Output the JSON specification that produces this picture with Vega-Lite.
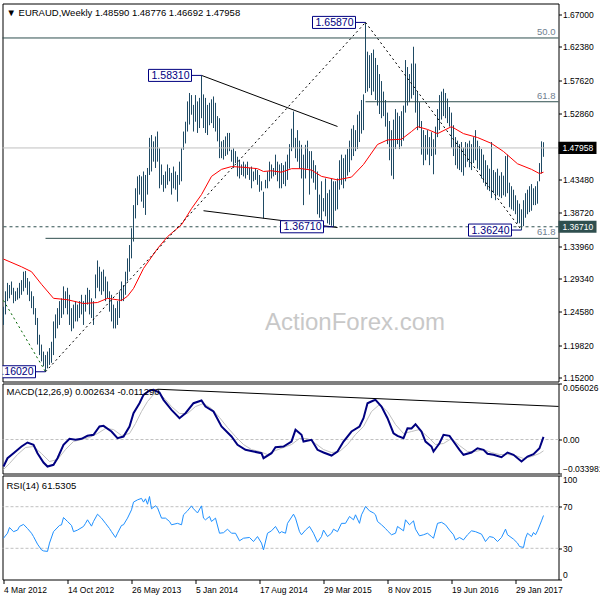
{
"$schema": "https://vega.github.io/schema/vega-lite/v6.json",
"background": "white",
"padding": {"left": -1.5, "top": 2.5, "right": 0, "bottom": 0},
"bounds": "flush",
"spacing": 2,
"config": {
 "view": {"stroke": "black", "strokeWidth": 1, "fill": "white"},
 "axis": {"labelFont": "Liberation Sans", "labelFontSize": 8.5, "labelColor": "black", "tickColor": "black", "tickWidth": 1, "domain": false, "grid": false, "labelOverlap": false},
 "text": {"font": "Liberation Sans"}
},
"datasets": {
 "bars": [
{"i":0,"h":1.253,"l":1.227},{"i":1,"h":1.275,"l":1.242},{"i":2,"h":1.287,"l":1.261},{"i":3,"h":1.284,"l":1.265},{"i":4,"h":1.289,"l":1.270},{"i":5,"h":1.280,"l":1.258},{"i":6,"h":1.275,"l":1.261},{"i":7,"h":1.280,"l":1.263},{"i":8,"h":1.287,"l":1.265},{"i":9,"h":1.291,"l":1.270},
{"i":10,"h":1.303,"l":1.275},{"i":11,"h":1.304,"l":1.280},{"i":12,"h":1.294,"l":1.270},{"i":13,"h":1.289,"l":1.261},{"i":14,"h":1.275,"l":1.251},{"i":15,"h":1.268,"l":1.242},{"i":16,"h":1.251,"l":1.227},{"i":17,"h":1.237,"l":1.199},{"i":18,"h":1.213,"l":1.184},{"i":19,"h":1.199,"l":1.175},
{"i":20,"h":1.189,"l":1.168},{"i":21,"h":1.184,"l":1.1602},{"i":22,"h":1.189,"l":1.165},{"i":23,"h":1.194,"l":1.170},{"i":24,"h":1.203,"l":1.173},{"i":25,"h":1.232,"l":1.184},{"i":26,"h":1.242,"l":1.208},{"i":27,"h":1.251,"l":1.222},{"i":28,"h":1.261,"l":1.227},{"i":29,"h":1.265,"l":1.237},
{"i":30,"h":1.282,"l":1.242},{"i":31,"h":1.275,"l":1.251},{"i":32,"h":1.280,"l":1.242},{"i":33,"h":1.270,"l":1.227},{"i":34,"h":1.251,"l":1.218},{"i":35,"h":1.256,"l":1.222},{"i":36,"h":1.261,"l":1.232},{"i":37,"h":1.256,"l":1.232},{"i":38,"h":1.261,"l":1.237},{"i":39,"h":1.270,"l":1.242},
{"i":40,"h":1.261,"l":1.227},{"i":41,"h":1.270,"l":1.246},{"i":42,"h":1.280,"l":1.256},{"i":43,"h":1.277,"l":1.242},{"i":44,"h":1.265,"l":1.237},{"i":45,"h":1.261,"l":1.227},{"i":46,"h":1.299,"l":1.265},{"i":47,"h":1.319,"l":1.280},{"i":48,"h":1.310,"l":1.275},{"i":49,"h":1.303,"l":1.270},
{"i":50,"h":1.306,"l":1.275},{"i":51,"h":1.296,"l":1.261},{"i":52,"h":1.289,"l":1.265},{"i":53,"h":1.275,"l":1.246},{"i":54,"h":1.270,"l":1.232},{"i":55,"h":1.256,"l":1.222},{"i":56,"h":1.251,"l":1.222},{"i":57,"h":1.261,"l":1.227},{"i":58,"h":1.275,"l":1.237},{"i":59,"h":1.289,"l":1.261},
{"i":60,"h":1.284,"l":1.261},{"i":61,"h":1.303,"l":1.270},{"i":62,"h":1.322,"l":1.289},{"i":63,"h":1.341,"l":1.303},{"i":64,"h":1.365,"l":1.322},{"i":65,"h":1.398,"l":1.346},{"i":66,"h":1.422,"l":1.379},{"i":67,"h":1.439,"l":1.398},{"i":68,"h":1.441,"l":1.413},{"i":69,"h":1.439,"l":1.403},
{"i":70,"h":1.446,"l":1.394},{"i":71,"h":1.441,"l":1.384},{"i":72,"h":1.451,"l":1.413},{"i":73,"h":1.494,"l":1.441},{"i":74,"h":1.498,"l":1.446},{"i":75,"h":1.489,"l":1.460},{"i":76,"h":1.496,"l":1.451},{"i":77,"h":1.503,"l":1.460},{"i":78,"h":1.479,"l":1.422},{"i":79,"h":1.456,"l":1.427},
{"i":80,"h":1.441,"l":1.417},{"i":81,"h":1.446,"l":1.422},{"i":82,"h":1.456,"l":1.427},{"i":83,"h":1.451,"l":1.432},{"i":84,"h":1.444,"l":1.413},{"i":85,"h":1.453,"l":1.422},{"i":86,"h":1.446,"l":1.420},{"i":87,"h":1.441,"l":1.403},{"i":88,"h":1.460,"l":1.427},{"i":89,"h":1.479,"l":1.432},
{"i":90,"h":1.503,"l":1.477},{"i":91,"h":1.517,"l":1.486},{"i":92,"h":1.546,"l":1.503},{"i":93,"h":1.558,"l":1.513},{"i":94,"h":1.555,"l":1.527},{"i":95,"h":1.541,"l":1.503},{"i":96,"h":1.555,"l":1.517},{"i":97,"h":1.546,"l":1.501},{"i":98,"h":1.551,"l":1.508},{"i":99,"h":1.5831,"l":1.522},
{"i":100,"h":1.556,"l":1.508},{"i":101,"h":1.551,"l":1.501},{"i":102,"h":1.541,"l":1.498},{"i":103,"h":1.544,"l":1.512},{"i":104,"h":1.549,"l":1.515},{"i":105,"h":1.553,"l":1.508},{"i":106,"h":1.544,"l":1.503},{"i":107,"h":1.525,"l":1.489},{"i":108,"h":1.522,"l":1.465},{"i":109,"h":1.489,"l":1.465},
{"i":110,"h":1.491,"l":1.463},{"i":111,"h":1.496,"l":1.468},{"i":112,"h":1.501,"l":1.470},{"i":113,"h":1.501,"l":1.475},{"i":114,"h":1.477,"l":1.460},{"i":115,"h":1.479,"l":1.451},{"i":116,"h":1.475,"l":1.458},{"i":117,"h":1.467,"l":1.439},{"i":118,"h":1.463,"l":1.436},{"i":119,"h":1.456,"l":1.441},
{"i":120,"h":1.460,"l":1.439},{"i":121,"h":1.456,"l":1.436},{"i":122,"h":1.460,"l":1.441},{"i":123,"h":1.451,"l":1.434},{"i":124,"h":1.453,"l":1.422},{"i":125,"h":1.446,"l":1.432},{"i":126,"h":1.451,"l":1.434},{"i":127,"h":1.448,"l":1.427},{"i":128,"h":1.441,"l":1.417},{"i":129,"h":1.432,"l":1.419},
{"i":130,"h":1.417,"l":1.379},{"i":131,"h":1.434,"l":1.422},{"i":132,"h":1.446,"l":1.422},{"i":133,"h":1.460,"l":1.432},{"i":134,"h":1.456,"l":1.436},{"i":135,"h":1.451,"l":1.439},{"i":136,"h":1.470,"l":1.441},{"i":137,"h":1.460,"l":1.432},{"i":138,"h":1.456,"l":1.422},{"i":139,"h":1.458,"l":1.422},
{"i":140,"h":1.455,"l":1.428},{"i":141,"h":1.460,"l":1.425},{"i":142,"h":1.470,"l":1.434},{"i":143,"h":1.485,"l":1.450},{"i":144,"h":1.507,"l":1.475},{"i":145,"h":1.5316,"l":1.480},{"i":146,"h":1.494,"l":1.465},{"i":147,"h":1.505,"l":1.460},{"i":148,"h":1.490,"l":1.450},{"i":149,"h":1.484,"l":1.436},
{"i":150,"h":1.470,"l":1.398},{"i":151,"h":1.484,"l":1.436},{"i":152,"h":1.490,"l":1.450},{"i":153,"h":1.475,"l":1.413},{"i":154,"h":1.475,"l":1.436},{"i":155,"h":1.462,"l":1.430},{"i":156,"h":1.455,"l":1.420},{"i":157,"h":1.446,"l":1.385},{"i":158,"h":1.413,"l":1.380},{"i":159,"h":1.432,"l":1.370},
{"i":160,"h":1.408,"l":1.389},{"i":161,"h":1.436,"l":1.382},{"i":162,"h":1.415,"l":1.372},{"i":163,"h":1.420,"l":1.370},{"i":164,"h":1.436,"l":1.3685},{"i":165,"h":1.432,"l":1.3671},{"i":166,"h":1.432,"l":1.390},{"i":167,"h":1.436,"l":1.392},{"i":168,"h":1.462,"l":1.420},{"i":169,"h":1.470,"l":1.427},
{"i":170,"h":1.465,"l":1.422},{"i":171,"h":1.470,"l":1.432},{"i":172,"h":1.478,"l":1.440},{"i":173,"h":1.490,"l":1.445},{"i":174,"h":1.507,"l":1.462},{"i":175,"h":1.512,"l":1.468},{"i":176,"h":1.505,"l":1.475},{"i":177,"h":1.527,"l":1.478},{"i":178,"h":1.532,"l":1.488},{"i":179,"h":1.548,"l":1.500},
{"i":180,"h":1.556,"l":1.505},{"i":181,"h":1.6587,"l":1.558},{"i":182,"h":1.617,"l":1.560},{"i":183,"h":1.612,"l":1.565},{"i":184,"h":1.615,"l":1.555},{"i":185,"h":1.620,"l":1.560},{"i":186,"h":1.608,"l":1.548},{"i":187,"h":1.598,"l":1.540},{"i":188,"h":1.585,"l":1.528},{"i":189,"h":1.575,"l":1.522},
{"i":190,"h":1.560,"l":1.525},{"i":191,"h":1.548,"l":1.510},{"i":192,"h":1.530,"l":1.485},{"i":193,"h":1.518,"l":1.462},{"i":194,"h":1.505,"l":1.440},{"i":195,"h":1.520,"l":1.435},{"i":196,"h":1.535,"l":1.478},{"i":197,"h":1.530,"l":1.485},{"i":198,"h":1.525,"l":1.478},{"i":199,"h":1.532,"l":1.482},
{"i":200,"h":1.540,"l":1.490},{"i":201,"h":1.605,"l":1.530},{"i":202,"h":1.595,"l":1.540},{"i":203,"h":1.585,"l":1.545},{"i":204,"h":1.600,"l":1.550},{"i":205,"h":1.624,"l":1.555},{"i":206,"h":1.600,"l":1.530},{"i":207,"h":1.560,"l":1.505},{"i":208,"h":1.545,"l":1.508},{"i":209,"h":1.518,"l":1.470},
{"i":210,"h":1.505,"l":1.455},{"i":211,"h":1.498,"l":1.462},{"i":212,"h":1.505,"l":1.470},{"i":213,"h":1.495,"l":1.455},{"i":214,"h":1.502,"l":1.468},{"i":215,"h":1.492,"l":1.442},{"i":216,"h":1.510,"l":1.470},{"i":217,"h":1.535,"l":1.495},{"i":218,"h":1.555,"l":1.505},{"i":219,"h":1.560,"l":1.520},
{"i":220,"h":1.564,"l":1.525},{"i":221,"h":1.558,"l":1.522},{"i":222,"h":1.550,"l":1.515},{"i":223,"h":1.538,"l":1.510},{"i":224,"h":1.530,"l":1.480},{"i":225,"h":1.512,"l":1.468},{"i":226,"h":1.495,"l":1.455},{"i":227,"h":1.490,"l":1.450},{"i":228,"h":1.485,"l":1.448},{"i":229,"h":1.488,"l":1.445},
{"i":230,"h":1.480,"l":1.440},{"i":231,"h":1.488,"l":1.452},{"i":232,"h":1.486,"l":1.460},{"i":233,"h":1.490,"l":1.452},{"i":234,"h":1.485,"l":1.448},{"i":235,"h":1.495,"l":1.458},{"i":236,"h":1.505,"l":1.462},{"i":237,"h":1.490,"l":1.450},{"i":238,"h":1.482,"l":1.448},{"i":239,"h":1.478,"l":1.436},
{"i":240,"h":1.470,"l":1.430},{"i":241,"h":1.462,"l":1.425},{"i":242,"h":1.455,"l":1.420},{"i":243,"h":1.450,"l":1.418},{"i":244,"h":1.488,"l":1.408},{"i":245,"h":1.448,"l":1.415},{"i":246,"h":1.445,"l":1.405},{"i":247,"h":1.450,"l":1.412},{"i":248,"h":1.440,"l":1.410},{"i":249,"h":1.445,"l":1.408},
{"i":250,"h":1.440,"l":1.412},{"i":251,"h":1.468,"l":1.410},{"i":252,"h":1.470,"l":1.415},{"i":253,"h":1.430,"l":1.395},{"i":254,"h":1.425,"l":1.392},{"i":255,"h":1.420,"l":1.390},{"i":256,"h":1.412,"l":1.385},{"i":257,"h":1.405,"l":1.372},{"i":258,"h":1.400,"l":1.372},{"i":259,"h":1.392,"l":1.3624},
{"i":260,"h":1.405,"l":1.368},{"i":261,"h":1.415,"l":1.380},{"i":262,"h":1.420,"l":1.385},{"i":263,"h":1.425,"l":1.388},{"i":264,"h":1.428,"l":1.390},{"i":265,"h":1.422,"l":1.398},{"i":266,"h":1.425,"l":1.398},{"i":267,"h":1.432,"l":1.400},{"i":268,"h":1.458,"l":1.432},{"i":269,"h":1.489,"l":1.443},
{"i":270,"h":1.48776,"l":1.46692}
 ],
 "ma": [
{"i":0,"v":1.321},{"i":9,"v":1.310},{"i":14,"v":1.303},{"i":19,"v":1.285},{"i":25,"v":1.265},{"i":32,"v":1.263},{"i":40,"v":1.2576},{"i":47,"v":1.259},{"i":52,"v":1.265},{"i":59,"v":1.262},{"i":62,"v":1.268},{"i":65,"v":1.279},{"i":70,"v":1.3076},{"i":77,"v":1.336},{"i":82,"v":1.353},{"i":89,"v":1.370},{"i":94,"v":1.393},{"i":99,"v":1.413},{"i":104,"v":1.439},{"i":109,"v":1.449},{"i":114,"v":1.453},{"i":120,"v":1.452},{"i":127,"v":1.450},{"i":130,"v":1.446},{"i":134,"v":1.447},{"i":139,"v":1.445},{"i":144,"v":1.450},{"i":149,"v":1.450},{"i":154,"v":1.448},{"i":159,"v":1.439},{"i":167,"v":1.434},{"i":174,"v":1.438},{"i":180,"v":1.456},{"i":187,"v":1.4845},{"i":192,"v":1.491},{"i":199,"v":1.492},{"i":204,"v":1.503},{"i":207,"v":1.510},{"i":212,"v":1.506},{"i":217,"v":1.500},{"i":224,"v":1.510},{"i":230,"v":1.500},{"i":237,"v":1.4945},{"i":244,"v":1.486},{"i":250,"v":1.4745},{"i":257,"v":1.457},{"i":264,"v":1.449},{"i":268,"v":1.443},{"i":270,"v":1.445}
 ],
 "macd": [
{"i":0,"v":-0.027},{"i":2,"v":-0.0187},{"i":5,"v":-0.0137},{"i":9,"v":-0.007},{"i":12,"v":-0.003},{"i":15,"v":-0.0053},{"i":17,"v":-0.0137},{"i":20,"v":-0.023},{"i":22,"v":-0.027},{"i":25,"v":-0.0253},{"i":27,"v":-0.0187},{"i":30,"v":-0.0053},{"i":33,"v":0.0007},{"i":36,"v":-0.0003},{"i":39,"v":0.0007},{"i":42,"v":0.0037},{"i":45,"v":0.0047},{"i":48,"v":0.013},{"i":50,"v":0.0137},{"i":54,"v":0.008},{"i":57,"v":0.0013},{"i":60,"v":0.003},{"i":63,"v":0.013},{"i":65,"v":0.0263},{"i":68,"v":0.0363},{"i":70,"v":0.0447},{"i":73,"v":0.049},{"i":75,"v":0.0497},{"i":78,"v":0.047},{"i":80,"v":0.0397},{"i":84,"v":0.0297},{"i":88,"v":0.0213},{"i":91,"v":0.0263},{"i":95,"v":0.0363},{"i":99,"v":0.039},{"i":101,"v":0.033},{"i":105,"v":0.028},{"i":109,"v":0.013},{"i":114,"v":0.003},{"i":117,"v":-0.0053},{"i":121,"v":-0.0103},{"i":125,"v":-0.012},{"i":129,"v":-0.0137},{"i":130,"v":-0.0187},{"i":134,"v":-0.0137},{"i":136,"v":-0.0077},{"i":140,"v":-0.007},{"i":144,"v":-0.002},{"i":146,"v":0.0097},{"i":149,"v":0.0047},{"i":150,"v":-0.002},{"i":154,"v":-0.0003},{"i":157,"v":-0.0103},{"i":160,"v":-0.013},{"i":164,"v":-0.016},{"i":167,"v":-0.012},{"i":170,"v":-0.002},{"i":174,"v":0.008},{"i":178,"v":0.013},{"i":180,"v":0.0213},{"i":182,"v":0.0363},{"i":185,"v":0.039},{"i":186,"v":0.0397},{"i":189,"v":0.033},{"i":192,"v":0.0213},{"i":195,"v":0.0063},{"i":197,"v":0.0037},{"i":200,"v":0.0013},{"i":202,"v":0.0113},{"i":204,"v":0.011},{"i":206,"v":0.0153},{"i":209,"v":0.008},{"i":211,"v":-0.002},{"i":214,"v":-0.007},{"i":215,"v":-0.012},{"i":218,"v":-0.0037},{"i":220,"v":0.0047},{"i":223,"v":0.0037},{"i":225,"v":-0.002},{"i":228,"v":-0.0103},{"i":230,"v":-0.0153},{"i":234,"v":-0.013},{"i":237,"v":-0.0087},{"i":240,"v":-0.0103},{"i":242,"v":-0.0143},{"i":245,"v":-0.0153},{"i":249,"v":-0.0177},{"i":252,"v":-0.013},{"i":255,"v":-0.0153},{"i":259,"v":-0.022},{"i":262,"v":-0.017},{"i":265,"v":-0.0147},{"i":268,"v":-0.0087},{"i":270,"v":0.002634}
 ],
 "sig": [
{"i":0,"v":-0.030},{"i":3,"v":-0.024},{"i":7,"v":-0.015},{"i":11,"v":-0.008},{"i":15,"v":-0.007},{"i":19,"v":-0.014},{"i":23,"v":-0.022},{"i":27,"v":-0.020},{"i":31,"v":-0.010},{"i":35,"v":-0.002},{"i":39,"v":0.000},{"i":43,"v":0.002},{"i":47,"v":0.006},{"i":51,"v":0.011},{"i":55,"v":0.010},{"i":59,"v":0.004},{"i":63,"v":0.006},{"i":66,"v":0.016},{"i":69,"v":0.028},{"i":72,"v":0.038},{"i":75,"v":0.045},{"i":78,"v":0.046},{"i":81,"v":0.040},{"i":84,"v":0.033},{"i":88,"v":0.026},{"i":92,"v":0.026},{"i":96,"v":0.033},{"i":100,"v":0.036},{"i":104,"v":0.031},{"i":108,"v":0.022},{"i":112,"v":0.012},{"i":116,"v":0.003},{"i":120,"v":-0.005},{"i":124,"v":-0.010},{"i":128,"v":-0.012},{"i":132,"v":-0.015},{"i":136,"v":-0.011},{"i":140,"v":-0.008},{"i":144,"v":-0.005},{"i":148,"v":0.001},{"i":152,"v":0.001},{"i":156,"v":-0.004},{"i":160,"v":-0.010},{"i":164,"v":-0.013},{"i":168,"v":-0.012},{"i":172,"v":-0.005},{"i":176,"v":0.005},{"i":180,"v":0.013},{"i":184,"v":0.028},{"i":188,"v":0.035},{"i":192,"v":0.028},{"i":196,"v":0.015},{"i":200,"v":0.006},{"i":204,"v":0.008},{"i":208,"v":0.010},{"i":212,"v":0.003},{"i":216,"v":-0.005},{"i":220,"v":-0.004},{"i":224,"v":0.001},{"i":228,"v":-0.006},{"i":232,"v":-0.012},{"i":236,"v":-0.012},{"i":240,"v":-0.010},{"i":244,"v":-0.013},{"i":248,"v":-0.015},{"i":252,"v":-0.015},{"i":256,"v":-0.016},{"i":260,"v":-0.019},{"i":264,"v":-0.017},{"i":268,"v":-0.014},{"i":270,"v":-0.01129}
 ],
 "mtl": [{"i":77,"v":0.0503},{"i":277.5,"v":0.0331}],
 "rsi": [
{"i":0,"v":39.7},{"i":2,"v":44.5},{"i":3,"v":50},{"i":5,"v":46},{"i":7,"v":47.5},{"i":8,"v":51},{"i":10,"v":53},{"i":12,"v":49},{"i":14,"v":44.5},{"i":15,"v":41.3},{"i":17,"v":34},{"i":19,"v":28.5},{"i":20,"v":27.5},{"i":22,"v":27},{"i":23,"v":35},{"i":25,"v":46},{"i":28,"v":52},{"i":29,"v":52.5},{"i":30,"v":59.6},{"i":32,"v":55.8},{"i":34,"v":52},{"i":35,"v":46},{"i":37,"v":47.5},{"i":40,"v":51},{"i":41,"v":54},{"i":42,"v":57.4},{"i":44,"v":51.3},{"i":45,"v":55.8},{"i":47,"v":62.8},{"i":49,"v":59},{"i":51,"v":54},{"i":53,"v":49},{"i":54,"v":46},{"i":56,"v":40.4},{"i":57,"v":44.5},{"i":59,"v":52},{"i":60,"v":52.6},{"i":62,"v":59},{"i":64,"v":67},{"i":65,"v":74.4},{"i":67,"v":76.6},{"i":69,"v":78},{"i":70,"v":74.4},{"i":71,"v":77.6},{"i":72,"v":72.4},{"i":73,"v":79.8},{"i":74,"v":68},{"i":76,"v":70.8},{"i":77,"v":69},{"i":79,"v":59},{"i":81,"v":59},{"i":83,"v":55.8},{"i":84,"v":52.6},{"i":87,"v":54},{"i":89,"v":52.6},{"i":90,"v":62.2},{"i":92,"v":66},{"i":94,"v":70.8},{"i":95,"v":68},{"i":97,"v":64},{"i":99,"v":70.8},{"i":100,"v":59},{"i":101,"v":57.4},{"i":103,"v":60.6},{"i":104,"v":55.8},{"i":106,"v":59},{"i":108,"v":44.5},{"i":110,"v":45},{"i":112,"v":48.4},{"i":114,"v":44.5},{"i":116,"v":44.5},{"i":118,"v":37.2},{"i":120,"v":39.7},{"i":123,"v":40.4},{"i":125,"v":36.5},{"i":127,"v":41.3},{"i":129,"v":35},{"i":130,"v":28.5},{"i":132,"v":44.5},{"i":134,"v":46.8},{"i":136,"v":51},{"i":138,"v":44.5},{"i":139,"v":46},{"i":141,"v":44.5},{"i":142,"v":54},{"i":145,"v":62.8},{"i":146,"v":59},{"i":148,"v":46},{"i":149,"v":43},{"i":151,"v":47.5},{"i":153,"v":51},{"i":155,"v":44.5},{"i":157,"v":35.9},{"i":159,"v":41.3},{"i":160,"v":47.5},{"i":162,"v":41.3},{"i":164,"v":44.5},{"i":165,"v":48.4},{"i":167,"v":46},{"i":169,"v":54},{"i":171,"v":54},{"i":173,"v":60.6},{"i":175,"v":57.4},{"i":176,"v":62.2},{"i":178,"v":54},{"i":179,"v":62.2},{"i":180,"v":66},{"i":181,"v":70.2},{"i":183,"v":66},{"i":185,"v":64},{"i":186,"v":62.2},{"i":187,"v":55.8},{"i":189,"v":52.6},{"i":191,"v":49},{"i":192,"v":46.8},{"i":194,"v":43},{"i":196,"v":44.5},{"i":197,"v":51},{"i":200,"v":46.8},{"i":201,"v":57.4},{"i":203,"v":52.6},{"i":205,"v":56.4},{"i":206,"v":48.4},{"i":208,"v":42},{"i":210,"v":43},{"i":212,"v":44.5},{"i":214,"v":41.3},{"i":215,"v":39.7},{"i":217,"v":54},{"i":219,"v":55},{"i":221,"v":52.6},{"i":223,"v":47.5},{"i":225,"v":43},{"i":226,"v":38.1},{"i":228,"v":40.4},{"i":230,"v":38.1},{"i":232,"v":43},{"i":234,"v":46.8},{"i":236,"v":46},{"i":239,"v":43.6},{"i":241,"v":36.5},{"i":243,"v":41.3},{"i":245,"v":40.4},{"i":247,"v":36.5},{"i":249,"v":40.4},{"i":251,"v":48.4},{"i":252,"v":43},{"i":255,"v":38.8},{"i":257,"v":35},{"i":258,"v":31.7},{"i":260,"v":30.8},{"i":261,"v":39.7},{"i":262,"v":44.5},{"i":264,"v":41.3},{"i":265,"v":45.2},{"i":266,"v":43},{"i":267,"v":46.8},{"i":269,"v":56.4},{"i":270,"v":61.53}
 ],
 "rsil": [{"v":70},{"v":30}],
 "ann": [{"i":99,"p":1.5831,"t":"1.58310"},{"i":181,"p":1.6587,"t":"1.65870"},{"i":165,"p":1.3671,"t":"1.36710"},{"i":259,"p":1.3624,"t":"1.36240"},{"i":21,"p":1.1602,"t":"1.16020"}],
 "fib": [{"a":-0.5,"p":1.6365,"t":"50.0"},{"a":181,"p":1.5455,"t":"61.8"},{"a":21,"p":1.3506,"t":"61.8"}],
 "tls": [{"k":"a","i":99,"p":1.5831},{"k":"a","i":167,"p":1.5102},{"k":"b","i":100,"p":1.390},{"k":"b","i":167,"p":1.366}],
 "tld": [{"k":"c","i":21,"p":1.1602},{"k":"c","i":181,"p":1.6587},{"k":"d","i":181,"p":1.6587},{"k":"d","i":259,"p":1.3624}],
 "tlg": [{"k":"e","i":0,"p":1.262},{"k":"e","i":21,"p":1.1602}],
 "pl": [{"p":1.47958,"t":"1.47958"},{"p":1.3671,"t":"1.36710"}]
},
"vconcat": [
 {
  "width": 556, "height": 378,
  "layer": [
   {"data": {"name": "bars"}, "mark": {"type": "rule", "color": "#1f4a64", "strokeWidth": 1},
    "encoding": {
     "x": {"field": "i", "type": "quantitative", "scale": {"domain": [-0.5, 277.5], "nice": false, "zero": false}, "axis": null},
     "y": {"field": "l", "type": "quantitative", "scale": {"domain": [1.1463, 1.6857], "nice": false, "zero": false},
           "axis": {"orient": "right", "values": [1.67, 1.6238, 1.5762, 1.5286, 1.4348, 1.3872, 1.3396, 1.2934, 1.2458, 1.1982, 1.152], "tickCount": 50, "format": ".5f", "tickSize": 3, "labelPadding": 1, "title": null}},
     "y2": {"field": "h"}
    }},
   {"data": {"values": [{}]}, "mark": {"type": "text", "text": "ActionForex.com", "fontSize": 24, "color": "#c8c8c8", "font": "Liberation Sans", "baseline": "alphabetic", "align": "center"},
    "encoding": {"x": {"datum": 175.75, "type": "quantitative", "axis": null}, "y": {"datum": 1.2205, "type": "quantitative"}}},
   {"data": {"values": [{}]}, "mark": {"type": "text", "text": "▼  EURAUD,Weekly  1.48590 1.48776 1.46692 1.47958", "fontSize": 9.5, "color": "black", "baseline": "alphabetic", "align": "left", "dx": 4, "dy": 12},
    "encoding": {"x": {"datum": -0.5, "type": "quantitative", "axis": null}, "y": {"datum": 1.6857, "type": "quantitative"}}},
   {"data": {"name": "pl"}, "transform": [{"filter": "datum.p > 1.4"}], "mark": {"type": "rule", "color": "#c0c0c0", "strokeWidth": 1},
    "encoding": {"y": {"field": "p", "type": "quantitative"}}},
   {"data": {"name": "pl"}, "transform": [{"filter": "datum.p < 1.4"}], "mark": {"type": "rule", "color": "#2f4f4f", "strokeWidth": 1, "strokeDash": [3, 3]},
    "encoding": {"y": {"field": "p", "type": "quantitative"}}},
   {"data": {"name": "fib"}, "mark": {"type": "rule", "color": "#2f4f4f", "strokeWidth": 1},
    "encoding": {"x": {"field": "a", "type": "quantitative", "axis": null}, "x2": {"value": "width"}, "y": {"field": "p", "type": "quantitative"}}},
   {"data": {"name": "fib"}, "mark": {"type": "text", "align": "right", "baseline": "bottom", "dx": -3, "dy": -1, "fontSize": 9.5, "color": "#708090"},
    "encoding": {"x": {"value": "width"}, "y": {"field": "p", "type": "quantitative"}, "text": {"field": "t"}}},
   {"data": {"name": "ma"}, "mark": {"type": "line", "color": "#ff0000", "strokeWidth": 1},
    "encoding": {"x": {"field": "i", "type": "quantitative", "axis": null}, "y": {"field": "v", "type": "quantitative"}}},
   {"data": {"name": "tls"}, "mark": {"type": "line", "color": "black", "strokeWidth": 1},
    "encoding": {"x": {"field": "i", "type": "quantitative", "axis": null}, "y": {"field": "p", "type": "quantitative"}, "detail": {"field": "k"}}},
   {"data": {"name": "tld"}, "mark": {"type": "line", "color": "black", "strokeWidth": 1, "strokeDash": [2, 3]},
    "encoding": {"x": {"field": "i", "type": "quantitative", "axis": null}, "y": {"field": "p", "type": "quantitative"}, "detail": {"field": "k"}}},
   {"data": {"name": "tlg"}, "mark": {"type": "line", "color": "#006400", "strokeWidth": 1, "strokeDash": [2, 3], "clip": true},
    "encoding": {"x": {"field": "i", "type": "quantitative", "axis": null}, "y": {"field": "p", "type": "quantitative"}}},
   {"data": {"name": "ann"}, "mark": {"type": "rule", "color": "#000080", "strokeWidth": 1, "xOffset": -10, "clip": true},
    "encoding": {"x": {"field": "i", "type": "quantitative", "axis": null}, "x2": {"field": "i"}, "y": {"field": "p", "type": "quantitative"}}},
   {"data": {"name": "ann"}, "mark": {"type": "point", "shape": "M-1,-0.28L1,-0.28L1,0.28L-1,0.28Z", "size": 1849, "filled": true, "fill": "white", "stroke": "#000080", "strokeWidth": 1, "opacity": 1, "xOffset": -31.5, "clip": true},
    "encoding": {"x": {"field": "i", "type": "quantitative", "axis": null}, "y": {"field": "p", "type": "quantitative"}}},
   {"data": {"name": "ann"}, "mark": {"type": "text", "align": "right", "baseline": "middle", "dx": -12, "dy": 0.5, "fontSize": 10.5, "color": "#000080", "clip": true},
    "encoding": {"x": {"field": "i", "type": "quantitative", "axis": null}, "y": {"field": "p", "type": "quantitative"}, "text": {"field": "t"}}},
   {"data": {"name": "pl"}, "mark": {"type": "point", "shape": "M-1,-0.32L1,-0.32L1,0.32L-1,0.32Z", "size": 1444, "filled": true, "opacity": 1, "xOffset": 19},
    "encoding": {"x": {"value": "width"}, "y": {"field": "p", "type": "quantitative"},
     "color": {"condition": {"test": "datum.p > 1.4", "value": "#000000"}, "value": "#2f4f4f"}}},
   {"data": {"name": "pl"}, "mark": {"type": "text", "align": "left", "baseline": "middle", "dx": 4, "fontSize": 8.5, "color": "white"},
    "encoding": {"x": {"value": "width"}, "y": {"field": "p", "type": "quantitative"}, "text": {"field": "t"}}}
  ]
 },
 {
  "width": 556, "height": 90,
  "layer": [
   {"data": {"values": [{}]}, "mark": {"type": "rule", "color": "#c0c0c0", "strokeWidth": 1, "strokeDash": [3, 2]},
    "encoding": {"y": {"datum": 0, "type": "quantitative"}}},
   {"data": {"name": "sig"}, "mark": {"type": "line", "color": "#c0c0c0", "strokeWidth": 1},
    "encoding": {"x": {"field": "i", "type": "quantitative", "axis": null}, "y": {"field": "v", "type": "quantitative"}}},
   {"data": {"name": "macd"}, "mark": {"type": "line", "color": "#000080", "strokeWidth": 2},
    "encoding": {
     "x": {"field": "i", "type": "quantitative", "scale": {"domain": [-0.5, 277.5], "nice": false, "zero": false}, "axis": null},
     "y": {"field": "v", "type": "quantitative", "scale": {"domain": [-0.033981, 0.056026], "nice": false, "zero": false},
           "axis": {"orient": "right", "values": [0.056026, 0, -0.033981], "tickCount": 50, "labelExpr": "datum.value == 0 ? '0.00' : format(datum.value, '.6f')", "tickSize": 3, "labelPadding": 1, "title": null,
                    "labelBaseline": {"condition": [{"test": "datum.value > 0.05", "value": "top"}, {"test": "datum.value < -0.03", "value": "bottom"}], "value": "middle"}}}
    }},
   {"data": {"name": "mtl"}, "mark": {"type": "line", "color": "black", "strokeWidth": 1},
    "encoding": {"x": {"field": "i", "type": "quantitative", "axis": null}, "y": {"field": "v", "type": "quantitative"}}},
   {"data": {"values": [{}]}, "mark": {"type": "text", "text": "MACD(12,26,9) 0.002634 -0.011290", "fontSize": 9.5, "color": "black", "baseline": "alphabetic", "align": "left", "dx": 4, "dy": 11.5},
    "encoding": {"x": {"datum": -0.5, "type": "quantitative", "axis": null}, "y": {"datum": 0.056026, "type": "quantitative"}}}
  ]
 },
 {
  "width": 556, "height": 104,
  "layer": [
   {"data": {"name": "rsil"}, "mark": {"type": "rule", "color": "#c0c0c0", "strokeWidth": 1, "strokeDash": [3, 2]},
    "encoding": {"y": {"field": "v", "type": "quantitative"}}},
   {"data": {"name": "rsi"}, "mark": {"type": "line", "color": "#1e90ff", "strokeWidth": 1},
    "encoding": {
     "x": {"field": "i", "type": "quantitative", "scale": {"domain": [-0.5, 277.5], "nice": false, "zero": false},
           "axis": {"orient": "bottom", "values": [0, 32, 64, 96, 128, 160, 192, 224, 256], "tickCount": 50, "labelExpr": "['4 Mar 2012','14 Oct 2012','26 May 2013','5 Jan 2014','17 Aug 2014','29 Mar 2015','8 Nov 2015','19 Jun 2016','29 Jan 2017'][round(datum.value/32)]", "labelAlign": "left", "labelBaseline": "top", "labelPadding": 2, "tickSize": 4, "title": null}},
     "y": {"field": "v", "type": "quantitative", "scale": {"domain": [0, 100], "nice": false},
           "axis": {"orient": "right", "values": [100, 70, 30, 0], "tickCount": 50, "tickSize": 3, "labelPadding": 1, "title": null,
                    "labelBaseline": {"condition": [{"test": "datum.value > 99", "value": "top"}, {"test": "datum.value < 1", "value": "bottom"}], "value": "middle"}}}
    }},
   {"data": {"values": [{}]}, "mark": {"type": "text", "text": "RSI(14) 61.5305", "fontSize": 9.5, "color": "black", "baseline": "alphabetic", "align": "left", "dx": 4, "dy": 13},
    "encoding": {"x": {"datum": -0.5, "type": "quantitative"}, "y": {"datum": 100, "type": "quantitative"}}}
  ]
 }
]
}
